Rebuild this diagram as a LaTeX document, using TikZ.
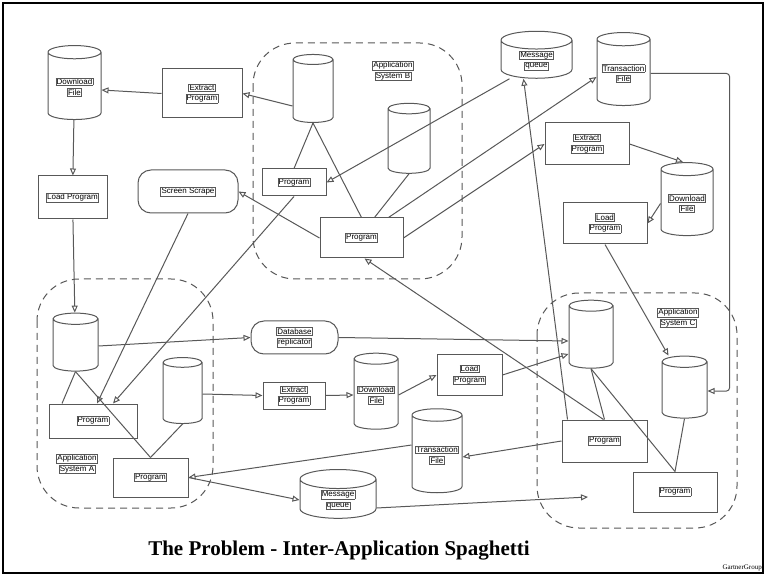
\documentclass[tikz,border=0pt]{standalone}
\usepackage{fontspec}
\setmainfont{Liberation Sans}
\newfontfamily\titlefont{Liberation Serif}
\usetikzlibrary{shapes.geometric,arrows.meta}
\definecolor{ln}{RGB}{88,88,88}
\newcommand{\lbox}[1]{{\setlength{\fboxsep}{0.4pt}\setlength{\fboxrule}{0.7pt}\fcolorbox{ln}{white}{#1}}}
\tikzset{
  base/.style={draw=ln, line width=1pt, inner sep=1pt, align=center, font=\fontsize{8}{10.6}\selectfont},
  prog/.style={base, rectangle},
  rnd/.style={base, rectangle, rounded corners=13pt},
  cyl/.style={base, cylinder, shape border rotate=90, aspect=0.25},
  arr/.style={draw=ln, line width=1pt, -{Triangle[open, length=7pt, width=6pt]}},
  con/.style={draw=ln, line width=1pt},
  sysarea/.style={draw=ln, line width=1pt, dash pattern=on 7pt off 5pt, rounded corners=42pt}
}
\begin{document}
\begin{tikzpicture}[x=1pt, y=-1pt]
    \useasboundingbox (0,0) rectangle (766,577);
    \draw[line width=1.6pt] (3,3) rectangle (763,573);

    \draw[sysarea] (253,43) rectangle (462,279);
    \draw[sysarea] (37,279) rectangle (213,508);
    \draw[sysarea] (537,293) rectangle (737,528);
    \node[font=\fontsize{8}{10.6}\selectfont, align=center] (sysB) at (393,71) {\lbox{Application}\\\lbox{System B}};
    \node[font=\fontsize{8}{10.6}\selectfont, align=center] (sysA) at (77,464) {\lbox{Application}\\\lbox{System A}};
    \node[font=\fontsize{8}{10.6}\selectfont, align=center] (sysC) at (678,318) {\lbox{Application}\\\lbox{System C}};

    \node[cyl, text width=51, minimum height=74] (dlA) at (74.5,87) {\lbox{Download}\\\lbox{File}};
    \node[prog, minimum width=80, minimum height=49] (exA) at (202,93.5) {\lbox{Extract}\\\lbox{Program}};
    \node[prog, minimum width=69, minimum height=43] (ldA) at (72.5,197.5) {\lbox{Load Program}};
    \node[rnd, minimum width=100, minimum height=43] (ss) at (188,191.5) {\lbox{Screen Scrape}};

    \node[cyl, text width=38, minimum height=68] (cB1) at (313,92) {};
    \node[cyl, text width=40, minimum height=70] (cB2) at (409,142) {};
    \node[prog, minimum width=64, minimum height=27] (prBs) at (294,182.5) {\lbox{Program}};
    \node[prog, minimum width=83, minimum height=40] (prBb) at (361.5,238) {\lbox{Program}};

    \node[cyl, text width=69, minimum height=43] (mqT) at (536.5,60.5) {\lbox{Message}\\\lbox{queue}};
    \node[cyl, text width=51, minimum height=73] (trT) at (623.5,73.5) {\lbox{Transaction}\\\lbox{File}};
    \node[prog, minimum width=84, minimum height=42] (exR) at (587,144) {\lbox{Extract}\\\lbox{Program}};
    \node[cyl, text width=50, minimum height=73] (dlR) at (687,203.5) {\lbox{Download}\\\lbox{File}};
    \node[prog, minimum width=84, minimum height=41] (ldR) at (605,223.5) {\lbox{Load}\\\lbox{Program}};

    \node[cyl, text width=43, minimum height=58] (cA1) at (75.5,346) {};
    \node[cyl, text width=37, minimum height=66] (cA2) at (182.5,394) {};
    \node[prog, minimum width=88, minimum height=34] (prA1) at (93,421) {\lbox{Program}};
    \node[prog, minimum width=75, minimum height=39] (prA2) at (150.5,477.5) {\lbox{Program}};

    \node[rnd, minimum width=87, minimum height=33] (dbr) at (294.5,337.5) {\lbox{Database}\\\lbox{replicator}};
    \node[prog, minimum width=62, minimum height=27] (exM) at (294,395.5) {\lbox{Extract}\\\lbox{Program}};
    \node[cyl, text width=42, minimum height=76] (dlM) at (376,395) {\lbox{Download}\\\lbox{File}};
    \node[prog, minimum width=65, minimum height=40] (ldM) at (469.5,375) {\lbox{Load}\\\lbox{Program}};
    \node[cyl, text width=48, minimum height=84] (trM) at (437,455) {\lbox{Transaction}\\\lbox{File}};
    \node[cyl, text width=74, minimum height=44] (mqB) at (338,500) {\lbox{Message}\\\lbox{queue}};
    \coordinate (mqend) at (588,497);

    \node[cyl, text width=42, minimum height=68] (cC1) at (591,338) {};
    \node[cyl, text width=43, minimum height=62] (cC2) at (684.5,391) {};
    \node[prog, minimum width=85, minimum height=42] (prC1) at (604.5,441) {\lbox{Program}};
    \node[prog, minimum width=84, minimum height=40] (prC2) at (675,492) {\lbox{Program}};

    \draw[arr] (exA.west) -- ([yshift=-3pt]dlA.east);
    \draw[arr] ([yshift=-14pt]cB1.west) -- (exA.east);
    \draw[arr] (dlA) -- (ldA);
    \draw[arr] (ldA) -- (cA1);
    \draw[arr] (ss.south) -- ([xshift=4pt]prA1.north);
    \draw[arr] (prBs.south) -- ([xshift=20pt]prA1.north);
    \draw[arr] (prBb.west) -- (ss.east);
    \draw[con] (cB1.south) -- (prBs.north);
    \draw[con] (cB1.south) -- (prBb.north);
    \draw[con] (cB2.south) -- ([xshift=13pt]prBb.north);
    \draw[arr] ([xshift=-27pt]mqT.south) -- (prBs.east);
    \draw[arr] ([xshift=27pt]prBb.north) -- ([yshift=-3.5pt]trT.west);
    \draw[arr] (prBb.east) -- (exR.west);
    \draw[arr] (exR.east) -- ([xshift=-4pt]dlR.north);
    \draw[arr] (dlR.west) -- (ldR.east);
    \draw[arr] (ldR.south) -- ([xshift=-16pt]cC2.north);
    \draw[arr, rounded corners=3pt] (trT.east) -- ++(79,0) |- (cC2.east);
    \draw[arr] ([xshift=-37pt]prC1.north) -- ([xshift=-13pt]mqT.south);
    \draw[arr] ([xshift=-1pt]prC1.north) -- ([xshift=3pt]prBb.south);
    \draw[arr] (dbr.east) -- ([yshift=-3pt]cC1.west);
    \draw[arr] (cA1.east) -- (dbr.west);
    \draw[arr] (cA2.east) -- (exM.west);
    \draw[arr] (exM.east) -- (dlM.west);
    \draw[arr] (dlM.east) -- (ldM.west);
    \draw[arr] (ldM.east) -- ([yshift=-16pt]cC1.west);
    \draw[con] (cA1.south) -- ([xshift=-31pt]prA1.north);
    \draw[con] (cA1.south) -- (prA2.north);
    \draw[con] (cA2.south) -- (prA2.north);
    \draw[arr] ([yshift=10pt]trM.west) -- (prA2.east);
    \draw[arr] (prA2.east) -- (mqB.west);
    \draw[arr] ([yshift=-8pt]mqB.east) -- (mqend);
    \draw[arr] (prC1.west) -- ([yshift=-2pt]trM.east);
    \draw[con] (cC1.south) -- (prC1.north);
    \draw[con] (cC1.south) -- (prC2.north);
    \draw[con] (cC2.south) -- (prC2.north);

    \node[font=\titlefont\bfseries\fontsize{21}{24}\selectfont] (title) at (339,551) {The Problem - Inter-Application Spaghetti};
    \node[font=\titlefont\fontsize{7}{8}\selectfont, anchor=south east, inner sep=0pt] (brand) at (762,571) {GartnerGroup};
\end{tikzpicture}
\end{document}
